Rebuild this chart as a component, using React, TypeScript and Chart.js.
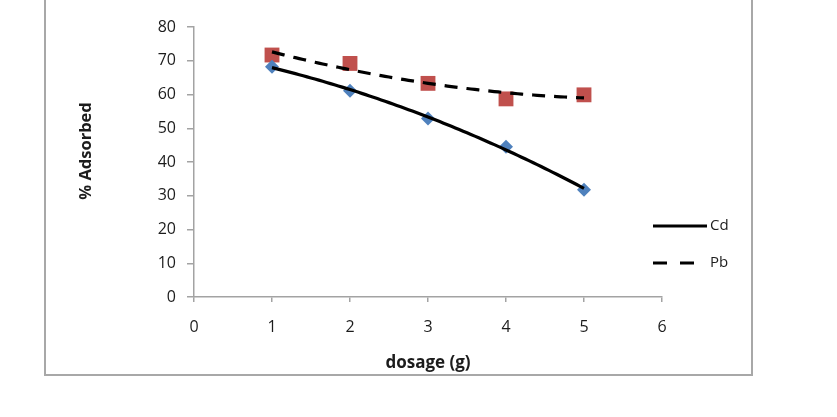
import React, { useEffect, useRef } from "react";
import { Chart, registerables } from "chart.js";

Chart.register(...registerables);

// Dosage (g) and % adsorbed for each metal
const dosage = [1, 2, 3, 4, 5];
const cdAdsorbed = [68.2, 61.1, 52.9, 44.5, 31.8];
const pbAdsorbed = [71.7, 69.2, 63.3, 58.7, 59.9];

const xTicks = [0, 1, 2, 3, 4, 5, 6];
const yTicks = [0, 10, 20, 30, 40, 50, 60, 70, 80];

const FONT = "'Open Sans', Lato, sans-serif";
const AXIS_GREY = "#a3a3a3";
const TEXT = "#1c1c1c";

// Second-order polynomial least-squares trendline (like a spreadsheet trendline)
function quadFit(xs: number[], ys: number[]) {
  const n = xs.length;
  let s1 = 0, s2 = 0, s3 = 0, s4 = 0, t0 = 0, t1 = 0, t2 = 0;
  for (let i = 0; i < n; i++) {
    const x = xs[i], y = ys[i];
    s1 += x; s2 += x * x; s3 += x * x * x; s4 += x * x * x * x;
    t0 += y; t1 += x * y; t2 += x * x * y;
  }
  const m = [
    [n, s1, s2, t0],
    [s1, s2, s3, t1],
    [s2, s3, s4, t2],
  ];
  for (let c = 0; c < 3; c++) {
    for (let r = c + 1; r < 3; r++) {
      const f = m[r][c] / m[c][c];
      for (let k = c; k < 4; k++) m[r][k] -= f * m[c][k];
    }
  }
  const coef = [0, 0, 0];
  for (let r = 2; r >= 0; r--) {
    let s = m[r][3];
    for (let k = r + 1; k < 3; k++) s -= m[r][k] * coef[k];
    coef[r] = s / m[r][r];
  }
  return (x: number) => coef[0] + coef[1] * x + coef[2] * x * x;
}

function trendPoints(xs: number[], ys: number[]) {
  const f = quadFit(xs, ys);
  const lo = Math.min(...xs), hi = Math.max(...xs);
  const pts: { x: number; y: number }[] = [];
  const steps = 80;
  for (let i = 0; i <= steps; i++) {
    const x = lo + ((hi - lo) * i) / steps;
    pts.push({ x, y: f(x) });
  }
  return pts;
}

const frameAndLegend = {
  id: "frameAndLegend",
  beforeDraw(chart: any) {
    const ctx = chart.ctx;
    ctx.save();
    ctx.fillStyle = "#ffffff";
    ctx.fillRect(0, 0, chart.width, chart.height);
    ctx.strokeStyle = "#a8a8a8";
    ctx.lineWidth = 2;
    ctx.beginPath();
    ctx.moveTo(45, -5);
    ctx.lineTo(45, 375);
    ctx.lineTo(752, 375);
    ctx.lineTo(752, -5);
    ctx.stroke();
    ctx.restore();
  },
  afterDraw(chart: any) {
    const ctx = chart.ctx;
    ctx.save();
    // vertical axis title
    ctx.fillStyle = TEXT;
    ctx.font = `bold 16.5px ${FONT}`;
    ctx.textAlign = "center";
    ctx.textBaseline = "middle";
    ctx.translate(86, 151);
    ctx.rotate(-Math.PI / 2);
    ctx.fillText("% Adsorbed", 0, 0);
    ctx.restore();

    ctx.save();
    ctx.strokeStyle = "#000000";
    ctx.lineWidth = 3.2;
    ctx.lineCap = "butt";
    // Cd entry
    ctx.beginPath();
    ctx.moveTo(653, 226);
    ctx.lineTo(707, 226);
    ctx.stroke();
    // Pb entry
    ctx.setLineDash([14, 13]);
    ctx.beginPath();
    ctx.moveTo(653, 263);
    ctx.lineTo(707, 263);
    ctx.stroke();
    ctx.setLineDash([]);
    ctx.fillStyle = TEXT;
    ctx.font = `15px ${FONT}`;
    ctx.textBaseline = "middle";
    ctx.textAlign = "left";
    ctx.fillText("Cd", 710, 226);
    ctx.fillText("Pb", 710, 263);
    ctx.restore();
  },
};

export default function App() {
  const canvasRef = useRef<HTMLCanvasElement | null>(null);

  useEffect(() => {
    if (!canvasRef.current) return;
    const chart = new Chart(canvasRef.current, {
      type: "scatter",
      data: {
        datasets: [
          {
            label: "Cd trend",
            data: trendPoints(dosage, cdAdsorbed),
            showLine: true,
            borderColor: "#000000",
            borderWidth: 3.2,
            pointRadius: 0,
            order: 0,
          },
          {
            label: "Pb trend",
            data: trendPoints(dosage, pbAdsorbed),
            showLine: true,
            borderColor: "#000000",
            borderWidth: 3.2,
            borderDash: [13, 9],
            pointRadius: 0,
            order: 0,
          },
          {
            label: "Cd",
            data: dosage.map((x, i) => ({ x, y: cdAdsorbed[i] })),
            pointStyle: "rectRot",
            pointRadius: 7,
            backgroundColor: "#4f81bd",
            borderColor: "#4f81bd",
            borderWidth: 0,
            order: 1,
          },
          {
            label: "Pb",
            data: dosage.map((x, i) => ({ x, y: pbAdsorbed[i] })),
            pointStyle: "rect",
            pointRadius: 10.5,
            backgroundColor: "#c0504d",
            borderColor: "#c0504d",
            borderWidth: 0,
            order: 1,
          },
        ],
      },
      options: {
        animation: false,
        responsive: true,
        maintainAspectRatio: false,
        layout: { padding: { top: 27, right: 175, left: 0, bottom: 0 } },
        plugins: {
          legend: { display: false },
          tooltip: { enabled: false },
        },
        scales: {
          x: {
            type: "linear",
            min: 0,
            max: 6,
            afterFit: (scale: any) => {
              scale.height = 120;
            },
            afterBuildTicks: (scale: any) => {
              scale.ticks = xTicks.map((v) => ({ value: v }));
            },
            grid: {
              display: true,
              drawOnChartArea: false,
              drawTicks: true,
              tickLength: 5,
              color: AXIS_GREY,
              lineWidth: 1.5,
            },
            border: { display: true, color: AXIS_GREY, width: 1.5 },
            ticks: {
              color: TEXT,
              font: { family: FONT, size: 16 },
              padding: 16,
              maxRotation: 0,
            },
            title: {
              display: true,
              text: "dosage (g)",
              color: TEXT,
              font: { family: FONT, size: 17, weight: "bold" },
              padding: { top: 0, bottom: 44 },
            },
          },
          y: {
            type: "linear",
            min: 0,
            max: 80,
            afterFit: (scale: any) => {
              scale.width = 194;
            },
            afterBuildTicks: (scale: any) => {
              scale.ticks = yTicks.map((v) => ({ value: v }));
            },
            grid: {
              display: true,
              drawOnChartArea: false,
              drawTicks: true,
              tickLength: 7,
              color: AXIS_GREY,
              lineWidth: 1.5,
            },
            border: { display: true, color: AXIS_GREY, width: 1.5 },
            ticks: {
              color: TEXT,
              font: { family: FONT, size: 16 },
              padding: 11,
            },
          },
        },
      },
      plugins: [frameAndLegend],
    });
    return () => chart.destroy();
  }, []);

  return (
    <div style={{ position: "fixed", left: 0, top: 0, width: 837, height: 417, background: "#fff" }}>
      <canvas ref={canvasRef} />
    </div>
  );
}
